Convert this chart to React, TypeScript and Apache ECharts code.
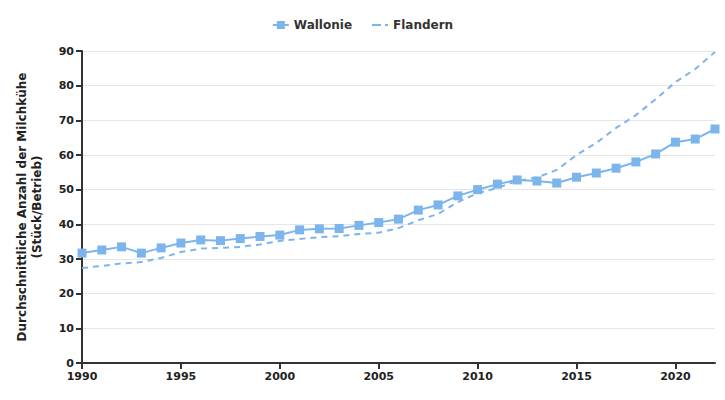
import React, { useEffect, useRef } from "react";
import * as echarts from "echarts";

const years = [1990,1991,1992,1993,1994,1995,1996,1997,1998,1999,2000,2001,2002,2003,2004,2005,2006,2007,2008,2009,2010,2011,2012,2013,2014,2015,2016,2017,2018,2019,2020,2021,2022];
const wallonie = [31.7,32.6,33.5,31.7,33.2,34.6,35.5,35.3,35.9,36.5,36.9,38.4,38.7,38.8,39.7,40.5,41.5,44.1,45.6,48.2,50.0,51.6,52.8,52.5,51.9,53.6,54.8,56.2,58.0,60.3,63.7,64.6,67.5];
const flandern = [27.4,28.0,28.7,29.1,30.3,32.0,33.0,33.2,33.5,34.2,35.2,35.8,36.3,36.6,37.2,37.6,38.9,41.2,43.0,46.4,49.0,50.5,52.5,53.5,55.7,60.0,63.5,67.8,71.5,76.1,81.0,84.8,89.7];
const seriesNames = ["Wallonie", "Flandern"];
const yAxisTitle = "Durchschnittliche Anzahl der Milchkühe\n(Stück/Betrieb)";

export default function App() {
  const ref = useRef<HTMLDivElement>(null);
  useEffect(() => {
    if (!ref.current) return;
    const chart = echarts.init(ref.current, null, { renderer: "svg" });
    const font = "DejaVu Sans, sans-serif";
    const dashIcon = "path://M0,0h9v2H0z M13,0h3v2h-3z";
    chart.setOption({
      animation: false,
      color: ["#7cb5ec", "#7cb5ec"],
      textStyle: { fontFamily: font },
      legend: {
        top: 14,
        left: "center",
        itemWidth: 16,
        itemHeight: 10,
        itemGap: 20,
        symbolKeepAspect: true,
        textStyle: { fontFamily: font, fontWeight: "bold", fontSize: 12, color: "#333" },
        data: [
          { name: seriesNames[0] },
          { name: seriesNames[1], icon: dashIcon, itemStyle: { color: "#7cb5ec" } },
        ],
      },
      grid: { left: 82, right: 10, top: 51, bottom: 37, containLabel: false },
      xAxis: {
        type: "value",
        min: 1990,
        max: 2022,
        interval: 5,
        axisLine: { show: true, lineStyle: { color: "#333", width: 2 } },
        axisTick: { show: true, length: 6, lineStyle: { color: "#333", width: 2 } },
        splitLine: { show: false },
        axisLabel: {
          fontFamily: font, fontWeight: "bold", fontSize: 11, color: "#222",
          showMaxLabel: false, margin: 8,
          formatter: (v: number) => String(v),
        },
      },
      yAxis: {
        type: "value",
        min: 0,
        max: 90,
        interval: 10,
        name: yAxisTitle,
        nameLocation: "middle",
        nameGap: 38,
        nameTextStyle: { fontFamily: font, fontWeight: "bold", fontSize: 12, color: "#222", lineHeight: 15 },
        axisLine: { show: true, lineStyle: { color: "#333", width: 2 } },
        axisTick: { show: true, length: 6, lineStyle: { color: "#333", width: 2 } },
        splitLine: { show: true, lineStyle: { color: "#e6e6e6", width: 1 } },
        axisLabel: { fontFamily: font, fontWeight: "bold", fontSize: 11, color: "#222", margin: 8 },
      },
      series: [
        {
          name: seriesNames[0],
          type: "line",
          data: years.map((y, i) => [y, wallonie[i]]),
          symbol: "rect",
          symbolSize: 9,
          lineStyle: { width: 2, color: "#7cb5ec" },
          itemStyle: { color: "#7cb5ec" },
        },
        {
          name: seriesNames[1],
          type: "line",
          data: years.map((y, i) => [y, flandern[i]]),
          showSymbol: false,
          symbol: "none",
          lineStyle: { width: 2, color: "#7cb5ec", type: [6, 5] },
          itemStyle: { color: "#7cb5ec" },
        },
      ],
    });
    return () => chart.dispose();
  }, []);
  return <div ref={ref} style={{ width: 725, height: 400, position: "absolute", left: 0, top: 0 }} />;
}
